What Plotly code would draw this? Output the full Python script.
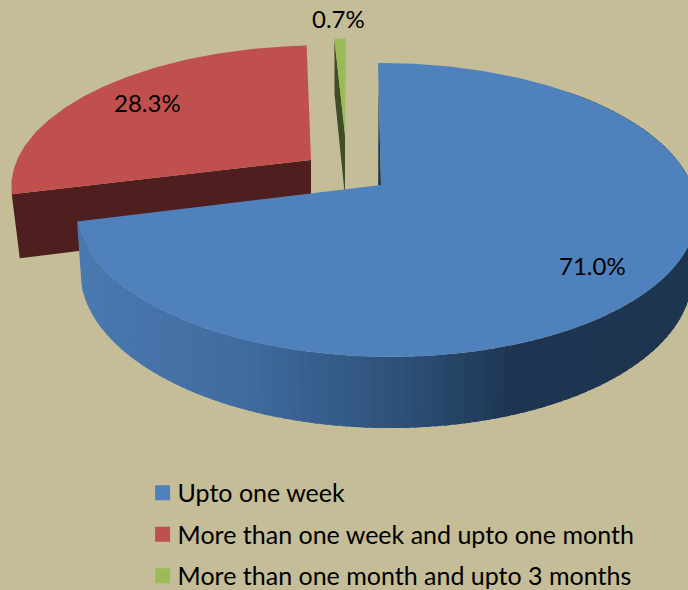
import numpy as np
import plotly.graph_objects as go

categories = ["Upto one week", "More than one week and upto one month", "More than one month and upto 3 months"]
values = [71.0, 28.3, 0.7]
labels = ["71.0%", "28.3%", "0.7%"]
face_colors = ["#4f81bd", "#c0504d", "#9bbb59"]
wall_colors = ["#1f3550", "#4f1e1e", "#3f4e26"]

# projection of the tilted disc (per slice: apex, scale, skew)
K, M = 0.17, -0.015
R0, S0 = 306.0, 142.7
DEPTH, KD = 62.0, 0.1275
geom = [
    dict(ax=381, ay=185, fx=1.0, fy=1.0, sk=-3.5, wsx=0.985, wdx=-3),
    dict(ax=311, ay=160, fx=0.975, fy=0.94, sk=8, wsx=0.973, wdx=0),
    dict(ax=345, ay=135, fx=1.0, fy=0.79, sk=1, wsx=0.985, wdx=0),
]
label_pos = [(592, 265), (147, 102), (338, 18)]

def project(theta, r, g):
    t = np.radians(theta)
    u, v = r * np.sin(t), r * np.cos(t)
    den = 1 + K * v + M * u
    x = g["ax"] + (R0 * g["fx"] * u + g["sk"] * v) / den
    y = g["ay"] - S0 * g["fy"] * v / den
    return x, y

def drop(theta, r, g):
    x, y = project(theta, r, g)
    v = r * np.cos(np.radians(theta))
    return g["ax"] + (x - g["ax"]) * g["wsx"] + g["wdx"], y + DEPTH / (1 + KD * v)

def poly(fig, xs, ys, color):
    fig.add_trace(go.Scatter(x=list(xs), y=list(ys), mode="lines", fill="toself", fillcolor=color,
                             line=dict(width=0, color=color), hoverinfo="skip", showlegend=False))

def mix(stops, x):
    xp = [s[0] for s in stops]
    return "rgb(%d,%d,%d)" % tuple(np.interp(x, xp, [s[1][i] for s in stops]) for i in range(3))

side_stops = [(80, (74, 122, 176)), (250, (64, 108, 160)), (420, (44, 78, 116)),
              (520, (30, 53, 82)), (690, (31, 53, 80))]

fig = go.Figure()
edges = np.cumsum([0] + values) / sum(values) * 360.0

# green slice
g = geom[2]; a0, a1 = edges[2], edges[3]
p0, c0 = project(a0, 1, g), project(a0, 0, g)
b0, bc = drop(a0, 1, g), drop(a0, 0, g)
poly(fig, [p0[0], c0[0], bc[0], b0[0], p0[0]], [p0[1], c0[1], bc[1], b0[1], p0[1]], wall_colors[2])
arc = np.linspace(a0, a1, 8)
px, py = project(arc, 1, g)
poly(fig, [c0[0], *px, c0[0]], [c0[1], *py, c0[1]], face_colors[2])

# red slice
g = geom[1]; a0, a1 = edges[1], edges[2]
p0, c0 = project(a0, 1, g), project(a0, 0, g)
b0, bc = drop(a0, 1, g), drop(a0, 0, g)
poly(fig, [p0[0], c0[0], bc[0], b0[0], p0[0]], [p0[1], c0[1], bc[1], b0[1], p0[1]], wall_colors[1])
arc = np.linspace(a0, a1, 120)
px, py = project(arc, 1, g)
poly(fig, [c0[0], *px, c0[0]], [c0[1], *py, c0[1]], face_colors[1])

# blue slice: curved side in shaded pieces, then inner sliver, then the face
g = geom[0]; a0, a1 = edges[0], edges[1]
g_side = dict(g, wdx=0)
grid = np.linspace(a1, 45, 130)
for t0, t1 in zip(grid[:-1], grid[1:]):
    tt = np.linspace(t1 - 1.2, t0, 3)
    tx, ty = project(tt, 1, g)
    bx, by = drop(tt, 1, g_side)
    poly(fig, [*tx, *bx[::-1], tx[0]], [*ty, *by[::-1], ty[0]], mix(side_stops, float(tx.mean())))
p0, c0 = project(a0, 0.8, g), project(a0, 0, g)
bc = drop(a0, 0, g)
poly(fig, [p0[0], c0[0], bc[0], p0[0]], [p0[1], c0[1], bc[1], p0[1]], wall_colors[0])
arc = np.linspace(a0, a1, 360)
px, py = project(arc, 1, g)
poly(fig, [c0[0], *px, c0[0]], [c0[1], *py, c0[1]], face_colors[0])

# legend entries
for i, name in enumerate(categories):
    fig.add_trace(go.Scatter(x=[None], y=[None], mode="markers", name=name, legendgroup=name,
                             marker=dict(symbol="square", size=15, color=face_colors[i])))

FONT = "Lato, Carlito, sans-serif"
for text, (lx, ly) in zip(labels, label_pos):
    fig.add_annotation(x=lx, y=ly, text=text, showarrow=False, xref="x", yref="y",
                       font=dict(family=FONT, size=24, color="#000000"))

fig.update_layout(
    width=688, height=590, autosize=False,
    margin=dict(l=0, r=0, t=0, b=0, autoexpand=False),
    paper_bgcolor="#c4bd97", plot_bgcolor="#c4bd97",
    xaxis=dict(range=[0, 688], visible=False, fixedrange=True),
    yaxis=dict(range=[590, 0], visible=False, fixedrange=True),
    legend=dict(x=0.2, y=0.2035, xanchor="left", yanchor="top", orientation="v",
                bgcolor="rgba(0,0,0,0)", tracegroupgap=6, maxheight=1,
                font=dict(family=FONT, size=25, color="#000000")),
    showlegend=True,
)
post = ("document.body.style.margin='0';document.body.style.background='#c4bd97';"
        "document.querySelectorAll('.legendsymbols').forEach(function(s){s.setAttribute('transform','translate(5,0)');});")
fig.write_html("out.html", config={"displayModeBar": False}, post_script=post)
